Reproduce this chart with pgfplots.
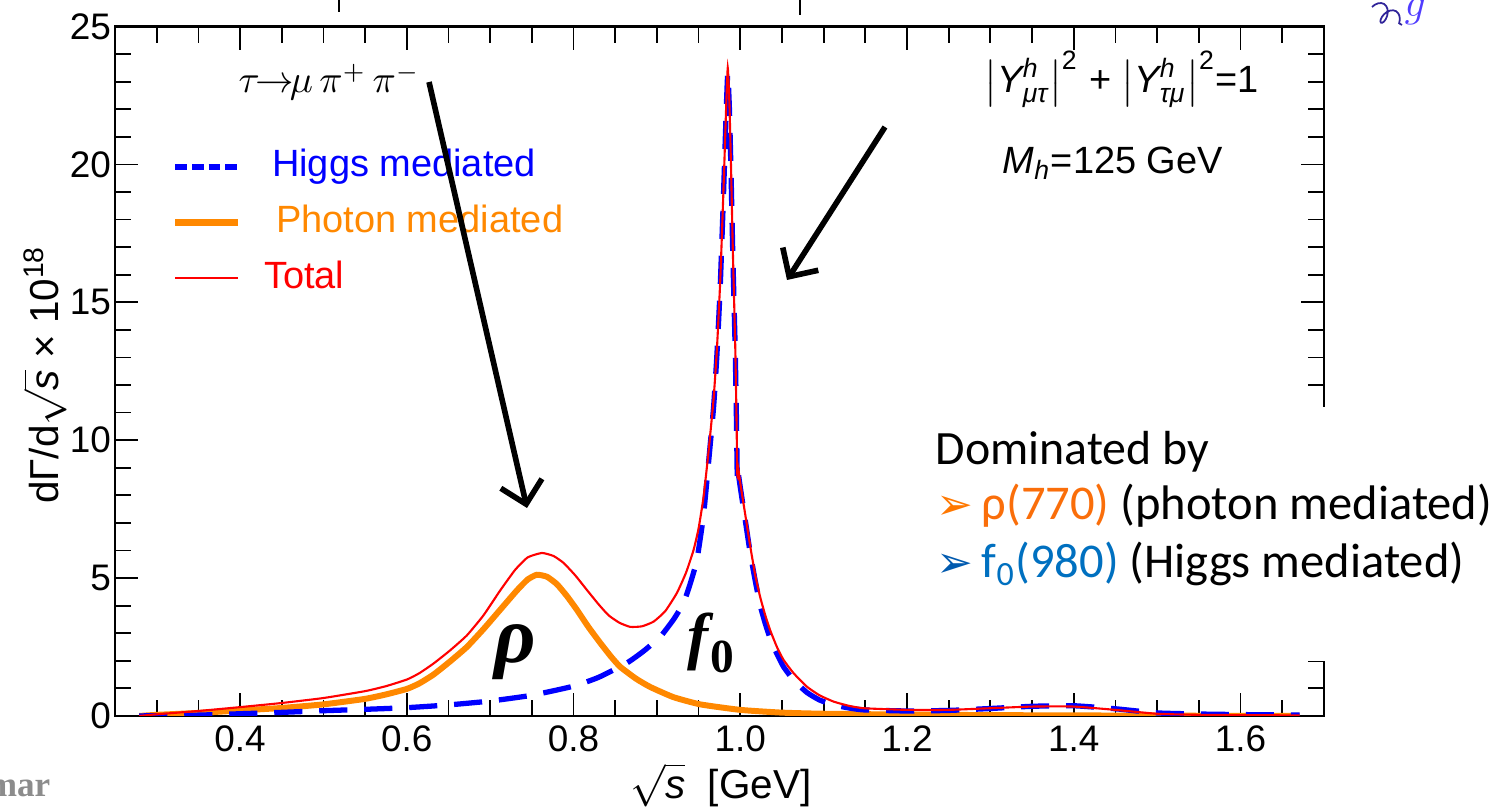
\documentclass[border=0pt]{standalone}
\usepackage{pgfplots}
\pgfplotsset{compat=1.18}
\usepackage{pgfplotstable}
\usepackage{amsmath}
\usepackage{fontspec}
\setmainfont{Liberation Sans}
\newfontfamily\slidefont{Carlito}
\newfontfamily\symfont{DejaVu Sans}
\newfontfamily\seriffont{Liberation Serif}
\usetikzlibrary{arrows.meta,decorations.pathmorphing}

\definecolor{higgsblue}{RGB}{0,0,255}
\definecolor{photonorange}{RGB}{255,136,0}
\definecolor{totalred}{RGB}{255,0,0}
\definecolor{rhoorange}{RGB}{250,110,10}
\definecolor{fzeroblue}{RGB}{0,112,192}
\definecolor{bulletorange}{RGB}{255,120,0}
\definecolor{bulletblue}{RGB}{0,90,175}
\definecolor{gluonblue}{RGB}{80,60,255}
\definecolor{namegray}{RGB}{140,140,140}

\newcommand{\fs}[1]{\fontsize{#1}{#1}\selectfont}

% photon-mediated contribution
\pgfplotstableread{
x y
0.279 0.00
0.30 0.04
0.35 0.11
0.40 0.20
0.45 0.29
0.50 0.42
0.55 0.62
0.575 0.78
0.60 0.98
0.615 1.18
0.632 1.50
0.652 1.98
0.672 2.50
0.692 3.15
0.712 3.85
0.732 4.55
0.745 4.95
0.756 5.12
0.768 5.05
0.780 4.78
0.792 4.35
0.804 3.85
0.818 3.22
0.832 2.65
0.845 2.15
0.856 1.78
0.875 1.35
0.892 1.05
0.92 0.68
0.952 0.42
1.00 0.22
1.05 0.12
1.10 0.08
1.20 0.05
1.30 0.03
1.40 0.02
1.50 0.01
1.60 0.005
1.671 0.0
}\photontab

% Higgs-mediated contribution
\pgfplotstableread{
x y
0.279 0.00
0.35 0.03
0.40 0.08
0.45 0.13
0.50 0.19
0.55 0.24
0.60 0.30
0.65 0.40
0.70 0.54
0.75 0.75
0.80 1.08
0.83 1.40
0.864 1.92
0.884 2.35
0.904 2.87
0.920 3.50
0.932 4.10
0.940 4.80
0.948 5.66
0.956 7.30
0.962 9.20
0.968 11.2
0.972 13.1
0.976 15.6
0.980 19.0
0.983 21.8
0.985 23.3
0.987 22.0
0.989 19.6
0.991 16.8
0.994 13.2
0.9955 10.6
0.9965 8.5
0.9975 8.8
1.000 8.3
1.006 7.1
1.012 5.9
1.018 4.9
1.024 4.0
1.030 3.35
1.036 2.80
1.044 2.25
1.052 1.78
1.064 1.30
1.080 0.85
1.095 0.58
1.112 0.40
1.130 0.29
1.148 0.22
1.20 0.18
1.25 0.20
1.30 0.27
1.35 0.35
1.40 0.37
1.45 0.26
1.50 0.11
1.55 0.07
1.60 0.05
1.671 0.03
}\higgstab

% sum of both channels
\pgfplotstableread{
x y
0.279 0.00
0.30 0.06
0.35 0.18
0.40 0.32
0.45 0.47
0.50 0.65
0.55 0.90
0.575 1.08
0.60 1.32
0.615 1.55
0.632 1.90
0.652 2.38
0.672 2.92
0.692 3.65
0.712 4.55
0.730 5.30
0.745 5.75
0.762 5.91
0.776 5.80
0.788 5.55
0.802 5.10
0.816 4.57
0.830 4.05
0.842 3.65
0.855 3.38
0.868 3.23
0.882 3.25
0.896 3.42
0.910 3.80
0.924 4.46
0.935 5.20
0.944 6.02
0.950 6.80
0.956 7.95
0.962 9.60
0.968 11.5
0.972 13.3
0.976 15.8
0.980 19.2
0.983 22.0
0.985 23.5
0.987 22.2
0.989 19.8
0.991 17.0
0.994 13.4
0.9955 10.8
0.9965 8.7
0.9975 9.0
1.000 8.45
1.006 7.3
1.012 6.15
1.018 5.1
1.024 4.30
1.030 3.65
1.036 3.10
1.044 2.50
1.052 2.03
1.064 1.55
1.080 1.06
1.095 0.75
1.112 0.52
1.130 0.37
1.148 0.28
1.20 0.22
1.25 0.22
1.30 0.28
1.35 0.34
1.40 0.34
1.45 0.22
1.50 0.08
1.55 0.04
1.60 0.03
1.671 0.02
}\totaltab

\begin{document}
\begin{tikzpicture}[x=0.01cm,y=0.01cm]
\useasboundingbox (0,0) rectangle (1509,809);

\begin{axis}[
  at={(1.15cm,0.93cm)}, anchor=south west,
  scale only axis, width=12.08cm, height=6.89cm,
  xmin=0.25, xmax=1.7, ymin=0, ymax=25,
  xtick={0.4,0.6,0.8,1.0,1.2,1.4,1.6},
  xticklabels={0.4,0.6,0.8,1.0,1.2,1.4,1.6},
  minor xtick={0.3,0.35,0.45,0.5,0.55,0.65,0.7,0.75,0.85,0.9,0.95,1.05,1.1,1.15,1.25,1.3,1.35,1.45,1.5,1.55,1.65},
  ytick={0,5,10,15,20,25},
  minor ytick={1,2,3,4,6,7,8,9,11,12,13,14,16,17,18,19,21,22,23,24},
  major tick length=0.23cm, minor tick length=0.16cm,
  axis line style={line width=0.6pt},
  every tick/.style={black, line width=0.5pt},
  tick label style={font=\fs{10.5}},
  /pgf/number format/assume math mode=true,
  yticklabel style={inner sep=1pt},
  xticklabel style={inner sep=2.6pt},
  every axis x label/.style={at={(axis description cs:0.501,-0.100)}, anchor=center},
  every axis y label/.style={at={(axis description cs:-0.058,0.495)}, rotate=90, anchor=center},
  label style={font=\fs{11.5}},
  xlabel={$\sqrt{\text{\itshape s}}$\ \ [GeV]},
  ylabel={dΓ/d$\sqrt{\text{\itshape s}}$ × 10$^{\text{18}}$},
  legend style={draw=none, fill=none, at={(axis description cs:0.0465,0.7155)}, anchor=west,
    font=\fs{10.8}, inner sep=0pt, row sep=5.8pt, column sep=0.23cm,
    nodes={inner sep=0pt, text height=7.8pt, text depth=2.2pt}},
  legend cell align=left,
  legend image code/.code={\draw[#1] (0cm,0cm) -- (0.62cm,0cm);},
]
\addlegendimage{higgsblue, line width=1.5pt, dash pattern=on 3.3pt off 1.4pt}
\addlegendentry{\hspace*{0.08cm}\textcolor{higgsblue}{Higgs mediated}}
\addlegendimage{photonorange, line width=2pt}
\addlegendentry{\hspace*{0.12cm}\textcolor{photonorange}{Photon mediated}}
\addlegendimage{totalred, line width=0.6pt}
\addlegendentry{\textcolor{totalred}{Total}}

\addplot[photonorange, line width=1.7pt, smooth, tension=0.3, forget plot] table {\photontab};
\addplot[higgsblue, line width=1.5pt, dash pattern=on 8pt off 4.8pt, smooth, tension=0.3, forget plot] table {\higgstab};
\addplot[totalred, line width=0.6pt, smooth, tension=0.3, forget plot] table {\totaltab};
\end{axis}

% annotations inside the frame
\node[anchor=base west, inner sep=0pt, font=\fs{10.6}] at (238,716) {$\tau\mkern-2mu{\rightarrow}\mkern-2mu\mu\,\pi^{+}\,\pi^{-}$};
\node[anchor=base west, inner sep=0pt, font=\fs{10.8}] at (984,716)
  {$\left|\text{\itshape Y}^{\text{\itshape h}}_{\text{\itshape μτ}}\right|^{\text{2}}$ + $\left|\text{\itshape Y}^{\text{\itshape h}}_{\text{\itshape τμ}}\right|^{\text{2}}$=1};
\node[anchor=base west, inner sep=0pt, font=\fs{10.8}] at (1002,635) {\textit{M}$_{\text{\itshape h}}$=125 GeV};

\node[inner sep=0pt, font=\fs{23}] at (515,157) {\seriffont\bfseries\itshape ρ};
\node[inner sep=0pt, font=\fs{18}] at (711,166) {\seriffont\bfseries\itshape f\kern0.5pt\raisebox{-0.25em}{\upshape\fs{13.5}0}};

% arrows
\draw[line width=1.6pt, -{Straight Barb[length=6pt,width=12pt]}] (429,727) -- (527,301);
\draw[line width=1.6pt, -{Straight Barb[length=6pt,width=12pt]}] (885,682) -- (787,529);

% text box covering the lower right of the frame
\fill[white] (925,148) rectangle (1509,402);
\node[anchor=base west, inner sep=0pt, font=\fs{13.6}] at (935,344) {\slidefont Dominated by};
\node[anchor=base west, inner sep=0pt, font=\fs{12.5}] at (936,289) {\symfont\color{bulletorange}➢};
\node[anchor=base west, inner sep=0pt, font=\fs{13.8}] at (981,289) {\slidefont\textcolor{rhoorange}{ρ(770)} (photon mediated)};
\node[anchor=base west, inner sep=0pt, font=\fs{12.5}] at (936,231) {\symfont\color{bulletblue}➢};
\node[anchor=base west, inner sep=0pt, font=\fs{13.8}] at (981,231) {\slidefont\textcolor{fzeroblue}{f\textsubscript{0}(980)} (Higgs mediated)};

% page remnants
\node[anchor=base east, inner sep=0pt, font=\fs{10}] at (51,12) {\seriffont\bfseries\color{namegray}mar};
\draw[line width=0.4pt] (339,809) -- (339,797);
\draw[line width=0.6pt] (800,809) -- (800,794);
\draw[gluonblue!60!black, line width=0.5pt, decorate, decoration={coil, aspect=0.6, segment length=4pt, amplitude=2.5pt}] (1372,802) -- (1402,784);
\node[anchor=base west, inner sep=0pt, font=\fs{12}, text=gluonblue] at (1404,792) {$g$};
\end{tikzpicture}
\end{document}
